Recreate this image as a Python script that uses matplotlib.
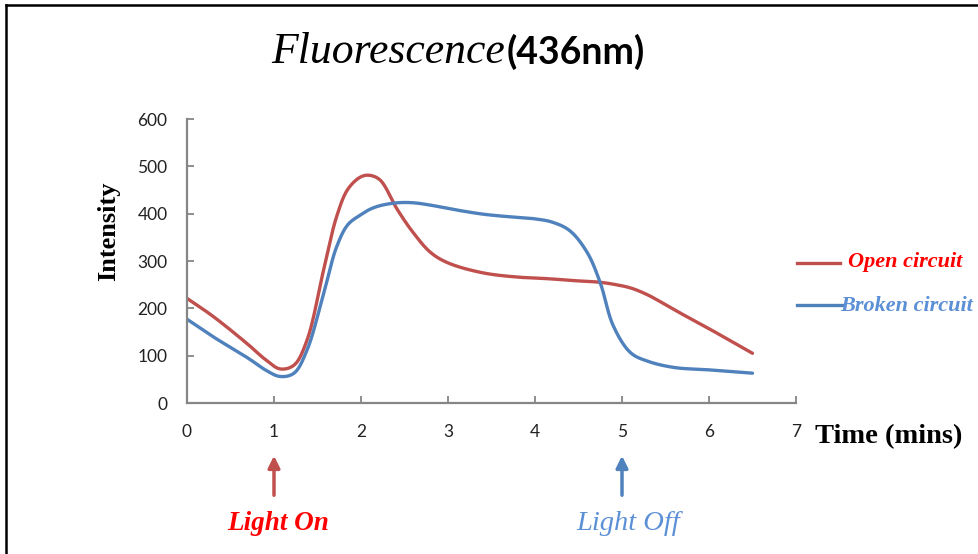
import numpy as np
import matplotlib
matplotlib.use("Agg")
import matplotlib.pyplot as plt
from matplotlib.lines import Line2D

# ---- data ----
time_min = [0, 0.3, 0.7, 0.9, 1.07, 1.23, 1.38, 1.57, 1.72, 1.85, 2.0, 2.1, 2.22,
            2.42, 2.6, 2.8, 3.0, 3.4, 3.8, 4.0, 4.2, 4.4, 4.6, 4.75, 4.9, 5.1,
            5.3, 5.6, 6.0, 6.5]
open_circuit = [221, 183, 124, 92, 72, 80, 133, 281, 394, 452, 478, 481, 471,
                408, 360, 318, 296, 275, 266, 264, 262, 259, 257, 255, 251, 243,
                228, 197, 157, 105]
broken_circuit = [177, 140, 95, 70, 56, 63, 112, 231, 330, 377, 398, 409, 417,
                  423, 423, 418, 411, 399, 392, 389, 382, 364, 318, 254, 163, 106,
                  88, 75, 70, 63]
series_names = ["Open circuit", "Broken circuit"]
x_ticks = [0, 1, 2, 3, 4, 5, 6, 7]
y_ticks = [0, 100, 200, 300, 400, 500, 600]
events = [(1, "Light On"), (5, "Light Off")]

RED = "#C0504D"
BLUE = "#4F81BD"
RED_TXT = "#FF0000"
BLUE_TXT = "#5B8FD6"


def smooth_line(x, y, n=30, sx=87.0, sy=0.4733):
    """Centripetal Catmull-Rom drawing of the read points (spreadsheet-style smoothed line)."""
    P = np.column_stack([np.asarray(x, float) * sx, np.asarray(y, float) * sy])
    P = np.vstack([2 * P[0] - P[1], P, 2 * P[-1] - P[-2]])
    pts = []
    for i in range(1, len(P) - 2):
        p0, p1, p2, p3 = P[i - 1], P[i], P[i + 1], P[i + 2]
        t0 = 0.0
        t1 = t0 + np.linalg.norm(p1 - p0) ** 0.5
        t2 = t1 + np.linalg.norm(p2 - p1) ** 0.5
        t3 = t2 + np.linalg.norm(p3 - p2) ** 0.5
        t = np.linspace(t1, t2, n, endpoint=False)[:, None]
        a1 = (t1 - t) / (t1 - t0) * p0 + (t - t0) / (t1 - t0) * p1
        a2 = (t2 - t) / (t2 - t1) * p1 + (t - t1) / (t2 - t1) * p2
        a3 = (t3 - t) / (t3 - t2) * p2 + (t - t2) / (t3 - t2) * p3
        b1 = (t2 - t) / (t2 - t0) * a1 + (t - t0) / (t2 - t0) * a2
        b2 = (t3 - t) / (t3 - t1) * a2 + (t - t1) / (t3 - t1) * a3
        c = (t2 - t) / (t2 - t1) * b1 + (t - t1) / (t2 - t1) * b2
        pts.append(c)
    pts.append(P[-2][None, :])
    pts = np.vstack(pts)
    return pts[:, 0] / sx, pts[:, 1] / sy


fig = plt.figure(figsize=(9.79, 5.54), dpi=100)
fig.patch.set_facecolor("white")
ax = fig.add_axes([187 / 979, 1 - 403 / 554, (796 - 187) / 979, (403 - 119) / 554])

for vals, col, name in [(open_circuit, RED, series_names[0]), (broken_circuit, BLUE, series_names[1])]:
    lx, ly = smooth_line(time_min, vals)
    ax.plot(lx, ly, color=col, lw=2.4, solid_capstyle="round", label=name)

ax.set_xlim(0, 7)
ax.set_ylim(0, 600)
ax.set_xticks(x_ticks)
ax.set_yticks(y_ticks)
for s in ["top", "right"]:
    ax.spines[s].set_visible(False)
for s in ["left", "bottom"]:
    ax.spines[s].set_color("#868686")
    ax.spines[s].set_linewidth(1.6)
ax.tick_params(direction="in", length=5, width=1.3, color="#868686",
               labelsize=12.5, labelcolor="#222222")
ax.tick_params(axis="x", pad=15)
ax.tick_params(axis="y", pad=14)
for lab in ax.get_xticklabels() + ax.get_yticklabels():
    lab.set_fontfamily("Lato")

fig.text(109 / 979, 1 - 231 / 554, "Intensity", fontfamily="Liberation Serif",
         fontweight="bold", fontsize=19, rotation=90, ha="center", va="center")
fig.text(815 / 979, 1 - 437 / 554, "Time (mins)", fontfamily="Liberation Serif",
         fontweight="bold", fontsize=20.5, ha="left", va="center")

# title
fig.text(271 / 979, 1 - 52 / 554, "Fluorescence", fontfamily="Liberation Serif",
         fontstyle="italic", fontsize=31.5, ha="left", va="center")
fig.text(507 / 979, 1 - 52 / 554, "(436nm)", fontfamily="Lato",
         fontweight="bold", fontsize=27, ha="left", va="center")

# legend (manual, right of plot)
fig.add_artist(Line2D([797 / 979, 840 / 979], [1 - 263 / 554] * 2, color=RED, lw=2.4))
fig.add_artist(Line2D([797 / 979, 842 / 979], [1 - 305 / 554] * 2, color=BLUE, lw=2.4))
fig.text(848 / 979, 1 - 262 / 554, series_names[0], fontfamily="Liberation Serif",
         fontstyle="italic", fontweight="bold", fontsize=16, color=RED_TXT,
         ha="left", va="center")
fig.text(840 / 979, 1 - 306 / 554, series_names[1], fontfamily="Liberation Serif",
         fontstyle="italic", fontweight="bold", fontsize=16, color=BLUE_TXT,
         ha="left", va="center")

# event arrows
for (xe, txt), acol, tcol, dx, wt, fs in zip(events, [RED, BLUE], [RED_TXT, BLUE_TXT],
                                             [0.05, 0.07], ["bold", "normal"], [19.5, 20.5]):
    ax.annotate("", xy=(xe, 1 - 453 / 554), xytext=(xe, 1 - 498 / 554),
                xycoords=("data", "figure fraction"), textcoords=("data", "figure fraction"),
                arrowprops=dict(arrowstyle="-|>,head_length=0.7,head_width=0.35",
                                color=acol, lw=2.5), annotation_clip=False)
    ax.annotate(txt, xy=(xe + dx, 1 - 523 / 554), xycoords=("data", "figure fraction"),
                ha="center", va="center", fontfamily="Liberation Serif",
                fontstyle="italic", fontweight=wt, fontsize=fs, color=tcol,
                annotation_clip=False)

# partial frame (top and left border lines)
fig.add_artist(Line2D([6 / 979, 1], [1 - 5 / 554] * 2, color="black", lw=1.8))
fig.add_artist(Line2D([6 / 979] * 2, [0, 1 - 5 / 554], color="black", lw=1.8))

fig.savefig("out.png", dpi=100)
